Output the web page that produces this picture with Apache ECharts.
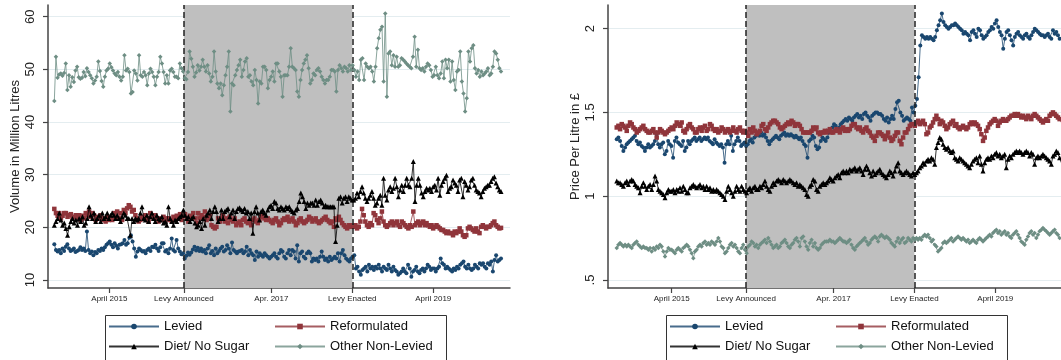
<!DOCTYPE html>
<html><head><meta charset="utf-8">
<script src="https://cdn.jsdelivr.net/npm/echarts@6/dist/echarts.min.js"></script>
<style>html,body{margin:0;padding:0;background:#fff}#c{width:1061px;height:360px}</style>
</head><body><div id="c"></div>
<script>
const seriesNames = ['Levied','Reformulated','Diet/ No Sugar','Other Non-Levied'];
const xTickValues = [2015.25, 2016.17, 2017.25, 2018.25, 2019.25];
const xTickLabels = ['April 2015','Levy Announced','Apr. 2017','Levy Enacted','April 2019'];
const levyAnnounced = 2016.17, levyEnacted = 2018.25;
const firstWeek = 2014.571, lastWeek = 2020.086;
const volTicks = [10,20,30,40,50,60];
const priceTicks = [0.5,1,1.5,2];

const volLevied = [16.8,15.7,15.4,15.7,15.1,16.0,15.5,16.3,16.8,16.0,15.5,15.7,16.0,15.3,15.5,15.7,16.2,15.7,16.0,15.5,19.2,15.7,15.1,15.4,14.7,15.3,15.1,15.7,15.5,16.0,15.7,16.2,16.7,17.0,17.3,16.7,16.2,17.0,16.5,16.0,16.7,16.8,17.0,17.6,16.7,17.0,18.0,18.5,17.3,16.0,14.4,15.4,16.0,15.7,15.4,15.5,15.1,15.7,16.0,15.5,16.3,16.2,16.7,16.0,15.5,16.2,17.0,17.0,15.4,15.7,15.1,16.0,17.9,15.7,15.4,17.6,16.0,15.4,14.9,15.1,14.1,14.6,15.2,14.8,
15.2,15.8,16.3,15.6,16.1,15.5,16.0,
15.4,15.7,15.1,16.0,16.6,15.1,15.5,14.7,16.0,15.1,15.5,16.0,16.3,15.4,15.7,16.6,16.0,15.1,17.1,15.7,15.4,15.1,15.4,15.5,15.7,15.1,15.4,16.3,14.7,15.7,15.1,14.7,13.8,15.4,14.4,15.1,14.7,14.4,15.1,14.7,14.4,14.1,14.4,14.7,15.1,14.4,14.1,15.1,15.7,15.4,14.4,14.1,15.1,15.7,14.7,15.7,15.4,14.1,16.6,13.5,15.1,15.4,14.4,14.1,15.1,15.4,15.1,13.5,14.1,13.8,14.1,13.5,14.4,15.4,14.4,13.8,14.1,13.5,14.4,13.8,14.1,14.4,14.1,15.1,13.5,15.1,15.7,14.7,14.1,13.8,13.5,14.1,14.4,14.7,
12.2,12.5,11.6,11.0,11.9,12.2,12.5,11.6,12.9,12.2,12.5,11.9,12.5,12.2,12.9,12.2,11.6,12.5,12.2,11.9,12.9,12.2,11.6,12.5,11.9,11.6,11.0,11.3,11.6,12.2,11.6,11.3,12.9,12.2,10.6,11.6,11.9,12.5,11.6,11.3,11.9,12.2,11.6,12.2,12.9,12.5,11.9,12.2,12.2,11.6,12.2,12.5,14.1,13.2,12.9,12.2,12.5,12.2,11.9,11.6,12.2,11.9,12.5,12.2,12.9,13.2,13.5,12.5,12.2,12.9,12.2,11.9,12.2,12.9,12.5,12.2,13.2,12.9,13.2,12.5,12.2,13.2,12.9,13.5,11.6,13.8,14.7,13.5,13.8,14.1];

const volReform = [23.5,22.7,22.2,22.7,21.7,22.2,22.7,22.7,22.0,22.3,22.5,21.7,22.0,22.3,21.7,22.3,21.4,22.2,21.7,22.7,22.3,23.0,22.0,22.7,22.3,21.4,22.0,21.7,22.3,21.4,21.7,21.1,22.0,21.4,21.7,21.4,22.7,22.0,23.0,21.7,22.7,21.4,23.3,22.7,23.6,24.2,23.9,23.0,23.3,22.3,21.7,21.1,21.4,22.0,21.7,22.3,21.7,21.1,22.7,22.2,21.7,22.3,21.7,21.1,21.7,21.4,22.0,21.1,21.7,21.7,21.4,21.2,22.0,21.7,22.2,21.7,22.5,21.4,22.2,22.5,21.7,21.1,22.2,21.7,22.7,21.7,20.8,
22.7,21.7,22.3,22.0,23.0,21.4,21.7,22.3,20.4,20.1,19.8,20.1,21.7,21.1,21.7,22.3,21.1,21.7,20.8,22.0,21.4,21.1,21.7,20.4,20.8,21.1,20.4,21.4,21.7,21.1,20.8,21.1,20.4,21.4,21.7,21.1,20.8,21.4,22.0,22.3,21.7,21.4,21.7,21.4,21.1,20.8,21.4,21.7,21.1,20.4,20.8,21.4,21.7,21.4,22.0,21.1,21.4,21.7,21.1,20.4,20.8,21.4,21.7,21.1,20.8,21.1,21.4,22.0,21.7,21.1,21.4,21.7,21.1,20.8,21.1,21.4,21.7,22.0,21.4,21.1,20.8,21.1,20.1,21.7,21.4,22.0,21.4,20.8,20.4,20.1,19.8,20.4,20.1,
20.4,20.1,20.4,19.8,20.1,21.1,23.5,22.3,21.1,20.4,20.1,20.8,20.4,22.7,22.3,21.4,20.8,21.7,23.0,21.1,20.4,20.1,20.4,20.8,21.1,20.4,20.8,21.1,20.4,20.1,21.1,20.8,20.4,20.1,19.8,20.4,20.1,23.0,20.4,20.8,21.1,20.4,20.8,21.1,20.4,20.8,20.4,20.1,20.4,19.8,20.1,20.4,20.1,19.8,19.5,19.5,19.2,18.9,19.2,18.9,18.9,18.5,19.2,18.9,19.2,19.8,19.2,18.5,18.2,18.5,19.8,20.1,19.8,19.5,19.2,19.8,19.2,18.9,20.1,20.4,20.1,19.8,20.1,20.1,20.4,20.8,21.1,20.4,20.1,19.8,19.9];

const volDiet = [20.4,21.1,21.7,22.7,21.4,20.4,20.8,19.8,18.5,20.1,21.1,21.7,20.8,21.4,20.4,21.7,21.1,22.0,20.4,20.8,21.7,23.9,22.3,21.7,22.7,21.1,21.7,22.3,21.1,22.7,21.7,22.0,22.7,21.7,22.3,22.7,22.3,21.7,22.3,21.7,21.1,22.0,22.7,22.3,21.7,21.7,18.5,21.7,21.1,21.7,21.4,21.7,22.7,23.9,21.7,21.4,22.3,21.1,22.0,22.7,21.7,21.1,22.3,21.7,21.4,22.0,20.8,21.1,20.4,23.9,21.7,21.1,20.4,21.4,21.1,21.7,22.0,22.3,23.3,22.3,21.7,22.0,21.1,21.7,22.0,20.8,20.1,20.4,
21.1,19.8,21.7,20.4,22.3,22.7,23.3,21.7,23.0,23.9,23.0,21.1,21.7,23.3,21.7,23.0,23.3,23.6,22.0,22.7,23.3,21.7,23.0,23.6,23.7,23.3,23.0,23.6,22.7,23.0,21.7,22.7,18.9,23.0,23.9,22.7,21.4,23.0,23.3,22.7,22.3,23.3,23.9,24.2,23.6,24.9,24.6,23.6,23.3,23.9,23.6,23.3,23.9,23.6,23.9,23.3,23.0,22.7,23.3,23.6,24.9,26.5,25.8,24.9,23.6,24.6,24.2,24.6,24.6,24.2,25.2,24.2,24.9,25.2,24.6,23.9,24.2,23.9,23.9,23.9,23.9,23.9,17.3,20.4,25.5,25.8,24.6,25.5,25.8,24.9,25.8,25.5,25.2,
25.2,25.5,26.5,25.8,26.8,27.7,26.5,25.5,24.9,25.5,26.1,26.8,25.5,24.2,24.6,25.5,26.1,24.2,29.3,26.1,25.2,27.1,27.7,26.8,27.4,29.3,27.7,25.8,27.1,28.0,26.8,28.0,29.3,28.0,27.7,29.3,32.5,24.9,28.0,29.3,28.0,26.5,25.8,26.8,27.4,27.1,27.4,26.8,27.7,28.0,27.1,29.3,26.1,28.0,28.7,29.3,29.9,26.8,27.4,27.7,29.0,28.4,28.0,26.8,29.0,29.3,25.8,28.7,28.0,27.1,27.7,29.0,29.3,28.0,27.1,26.8,26.5,25.8,26.8,27.4,27.7,28.0,28.0,28.7,29.3,29.6,28.4,27.7,27.1,26.8];

const volOther = [44.0,52.4,48.4,49.0,49.2,48.8,49.3,51.1,46.1,48.9,46.7,48.5,47.6,49.8,50.5,48.5,48.2,48.4,49.5,48.7,50.2,49.5,48.9,48.3,47.3,47.9,48.6,51.5,49.7,47.8,46.7,48.6,49.8,50.1,51.1,50.4,49.8,49.2,48.9,49.5,48.6,47.9,48.6,52.7,49.8,50.1,49.5,45.4,45.7,49.8,49.2,47.9,52.7,48.9,48.6,49.5,48.9,47.0,49.2,50.1,49.5,48.6,47.0,48.6,49.5,52.4,51.1,49.5,47.3,48.9,47.3,49.8,50.1,49.5,48.6,48.6,48.3,51.1,50.2,49.6,48.3,48.1,49.5,53.4,
52.0,50.5,48.6,49.4,50.8,49.8,50.5,
51.8,50.5,49.6,50.8,49.2,47.7,48.6,53.4,49.6,47.3,46.4,47.3,45.1,47.0,48.9,50.5,53.4,42.0,47.3,47.0,48.9,49.9,50.8,51.8,48.6,49.9,51.5,52.1,48.6,48.9,47.7,47.0,49.9,48.0,43.5,47.7,47.3,50.5,50.5,49.9,46.4,48.0,48.6,49.6,47.7,51.1,51.1,49.6,48.6,44.8,48.9,48.9,48.9,50.5,54.0,50.5,50.2,49.9,45.8,44.8,48.0,49.9,51.1,51.8,52.7,50.2,47.3,48.0,49.2,48.9,49.9,50.2,49.6,48.6,48.0,47.3,48.0,48.0,48.6,49.9,49.9,49.6,45.8,49.9,50.8,50.2,49.6,50.5,50.2,49.6,50.8,49.9,50.8,
49.9,48.6,49.6,48.0,51.8,52.1,48.0,51.1,50.5,50.2,50.5,49.6,47.7,50.5,54.0,55.9,57.5,58.1,47.7,60.6,44.8,53.0,53.4,50.8,52.7,50.5,52.4,50.5,50.8,52.1,51.8,51.5,51.1,50.8,50.5,50.2,52.4,56.2,50.5,53.7,50.2,49.9,50.2,49.6,50.5,51.1,50.8,49.9,48.6,48.9,50.5,48.9,48.3,49.2,51.5,48.3,51.8,50.2,51.8,47.7,51.5,48.0,46.1,49.6,49.9,53.4,47.7,45.4,42.0,44.5,53.4,51.5,54.0,54.6,50.2,49.2,49.9,48.6,49.6,48.9,49.2,49.6,50.2,48.9,49.2,50.5,53.4,53.0,51.8,50.2,49.6];

const priceLevied = [1.34,1.35,1.33,1.30,1.27,1.29,1.31,1.32,1.33,1.34,1.35,1.36,1.33,1.31,1.32,1.30,1.29,1.27,1.29,1.31,1.29,1.30,1.31,1.33,1.37,1.31,1.29,1.31,1.32,1.25,1.27,1.33,1.31,1.30,1.23,1.33,1.35,1.32,1.31,1.30,1.33,1.27,1.29,1.33,1.31,1.33,1.34,1.35,1.33,1.34,1.35,1.33,1.34,1.35,1.34,1.35,1.33,1.32,1.31,1.34,1.32,1.31,1.30,1.31,1.29,1.20,1.31,1.33,1.31,1.36,1.27,1.31,1.33,1.35,1.33,1.30,1.31,1.32,1.30,
1.31,1.33,1.34,1.32,1.35,1.36,
1.38,1.36,1.38,1.36,1.37,1.35,1.33,1.31,1.33,1.34,1.35,1.36,1.35,1.34,1.36,1.37,1.38,1.36,1.37,1.36,1.37,1.36,1.35,1.36,1.35,1.34,1.35,1.33,1.31,1.30,1.23,1.33,1.34,1.36,1.35,1.30,1.28,1.29,1.33,1.35,1.34,1.33,1.35,1.38,1.39,1.41,1.43,1.42,1.40,1.41,1.43,1.44,1.45,1.46,1.45,1.47,1.46,1.45,1.47,1.48,1.49,1.47,1.48,1.46,1.49,1.50,1.48,1.47,1.45,1.48,1.49,1.50,1.50,1.49,1.49,1.48,1.46,1.45,1.47,1.44,1.46,1.48,1.46,1.52,1.56,1.57,1.50,1.48,1.45,1.46,1.47,1.46,1.45,1.53,
1.50,1.54,1.58,1.71,1.90,1.96,1.95,1.94,1.95,1.94,1.95,1.94,1.93,1.95,1.99,2.02,2.05,2.09,2.04,2.02,2.01,2.00,2.01,2.02,2.02,2.03,2.02,2.01,2.00,1.99,1.97,1.98,1.97,1.96,1.93,1.98,1.99,1.97,1.95,2.00,1.99,1.96,1.94,1.95,1.96,1.98,1.99,2.01,2.00,2.03,2.05,2.01,1.98,1.96,1.88,1.94,1.98,1.99,1.96,1.93,1.90,1.95,1.97,1.98,1.96,1.95,1.94,1.96,1.97,1.95,1.94,1.96,1.98,2.00,1.99,1.98,1.97,1.96,1.96,1.95,1.96,1.97,1.95,1.94,1.99,1.97,1.98,1.96,1.94,1.94,1.93];

const priceReform = [1.41,1.42,1.40,1.43,1.42,1.41,1.39,1.42,1.44,1.43,1.41,1.40,1.38,1.39,1.40,1.41,1.42,1.40,1.39,1.38,1.38,1.39,1.40,1.38,1.35,1.38,1.40,1.39,1.38,1.37,1.38,1.39,1.40,1.41,1.40,1.42,1.44,1.43,1.42,1.44,1.39,1.38,1.40,1.42,1.43,1.41,1.40,1.38,1.38,1.40,1.41,1.39,1.41,1.42,1.39,1.40,1.43,1.42,1.40,1.39,1.40,1.38,1.39,1.41,1.40,1.38,1.39,1.40,1.38,1.39,1.41,1.39,1.38,1.40,1.41,1.39,1.38,1.39,1.38,
1.36,1.40,1.38,1.41,1.39,1.37,
1.38,1.39,1.42,1.43,1.40,1.39,1.41,1.43,1.44,1.45,1.45,1.44,1.43,1.41,1.40,1.41,1.42,1.43,1.44,1.43,1.45,1.44,1.42,1.43,1.43,1.42,1.40,1.38,1.38,1.38,1.38,1.38,1.39,1.41,1.40,1.41,1.38,1.37,1.38,1.38,1.39,1.38,1.39,1.40,1.38,1.38,1.39,1.40,1.39,1.38,1.40,1.41,1.39,1.40,1.39,1.40,1.42,1.43,1.43,1.41,1.40,1.41,1.39,1.38,1.40,1.41,1.39,1.38,1.36,1.35,1.33,1.36,1.38,1.38,1.37,1.36,1.34,1.36,1.38,1.35,1.33,1.34,1.36,1.38,1.38,1.33,1.31,1.35,1.38,1.38,1.40,1.42,1.43,
1.43,1.42,1.44,1.45,1.43,1.44,1.45,1.43,1.37,1.38,1.41,1.42,1.44,1.46,1.48,1.46,1.43,1.45,1.44,1.42,1.40,1.41,1.43,1.44,1.45,1.42,1.43,1.41,1.40,1.41,1.42,1.41,1.40,1.41,1.43,1.44,1.43,1.44,1.43,1.42,1.40,1.37,1.33,1.35,1.39,1.41,1.43,1.44,1.45,1.46,1.45,1.42,1.44,1.45,1.46,1.45,1.45,1.46,1.47,1.48,1.48,1.49,1.48,1.49,1.48,1.47,1.48,1.47,1.46,1.48,1.47,1.46,1.48,1.49,1.48,1.47,1.46,1.45,1.44,1.45,1.46,1.45,1.48,1.49,1.50,1.49,1.48,1.47,1.46,1.44,1.43];

const priceDiet = [1.09,1.08,1.08,1.07,1.06,1.08,1.09,1.07,1.09,1.10,1.09,1.07,1.06,1.05,1.02,1.06,1.08,1.06,1.04,1.06,1.07,1.04,1.07,1.12,1.09,1.04,1.03,1.02,1.01,0.99,1.02,1.04,1.03,1.03,1.04,1.02,1.04,1.03,1.05,1.03,1.06,1.04,1.02,1.02,1.05,1.06,1.07,1.06,1.05,1.06,1.07,1.05,1.06,1.04,1.06,1.04,1.05,1.03,1.04,1.03,1.04,1.03,1.02,1.01,1.00,0.98,1.03,1.06,1.04,1.02,1.00,1.03,1.06,1.04,1.03,1.06,1.04,1.03,1.02,
1.04,1.05,1.03,1.05,1.06,1.04,
1.04,1.06,1.05,1.07,1.09,1.06,1.04,1.03,1.06,1.08,1.07,1.09,1.10,1.09,1.08,1.10,1.09,1.08,1.09,1.10,1.09,1.08,1.07,1.08,1.06,1.07,1.06,1.05,1.04,1.01,1.00,1.06,1.07,1.10,1.09,1.04,1.03,1.06,1.07,1.08,1.07,1.08,1.09,1.11,1.10,1.09,1.11,1.12,1.13,1.11,1.14,1.15,1.14,1.15,1.14,1.16,1.15,1.16,1.17,1.15,1.16,1.17,1.15,1.13,1.16,1.18,1.16,1.14,1.12,1.15,1.13,1.14,1.15,1.16,1.14,1.13,1.12,1.11,1.13,1.15,1.14,1.12,1.15,1.18,1.20,1.15,1.14,1.13,1.14,1.15,1.14,1.13,1.12,
1.14,1.13,1.14,1.15,1.17,1.18,1.20,1.19,1.21,1.22,1.21,1.23,1.22,1.19,1.29,1.32,1.35,1.34,1.31,1.29,1.28,1.29,1.27,1.26,1.27,1.23,1.22,1.21,1.23,1.22,1.21,1.20,1.19,1.18,1.17,1.19,1.21,1.22,1.23,1.20,1.24,1.19,1.15,1.20,1.22,1.23,1.22,1.24,1.23,1.25,1.26,1.24,1.25,1.23,1.24,1.25,1.17,1.22,1.24,1.23,1.25,1.26,1.27,1.26,1.27,1.26,1.25,1.26,1.27,1.26,1.24,1.26,1.25,1.19,1.23,1.24,1.23,1.24,1.25,1.24,1.23,1.22,1.21,1.19,1.24,1.25,1.27,1.26,1.23,1.20,1.21];

const priceOther = [0.69,0.71,0.72,0.71,0.70,0.71,0.70,0.71,0.70,0.69,0.71,0.72,0.73,0.71,0.70,0.69,0.70,0.69,0.69,0.68,0.69,0.67,0.69,0.68,0.70,0.69,0.71,0.70,0.67,0.64,0.67,0.69,0.68,0.68,0.67,0.66,0.68,0.69,0.68,0.67,0.69,0.70,0.71,0.70,0.68,0.66,0.63,0.67,0.68,0.70,0.71,0.70,0.72,0.73,0.71,0.72,0.71,0.73,0.72,0.71,0.73,0.75,0.73,0.70,0.69,0.66,0.67,0.69,0.71,0.72,0.70,0.71,0.69,0.67,0.66,0.69,0.71,0.68,0.66,
0.70,0.71,0.73,0.72,0.70,0.71,
0.69,0.71,0.72,0.73,0.74,0.72,0.75,0.73,0.71,0.69,0.70,0.71,0.69,0.70,0.72,0.73,0.74,0.72,0.70,0.69,0.71,0.72,0.74,0.75,0.73,0.70,0.75,0.76,0.73,0.70,0.68,0.72,0.74,0.70,0.72,0.69,0.68,0.69,0.71,0.72,0.73,0.73,0.73,0.74,0.73,0.73,0.72,0.73,0.74,0.75,0.74,0.73,0.73,0.72,0.73,0.74,0.71,0.69,0.68,0.70,0.71,0.72,0.73,0.74,0.75,0.73,0.71,0.72,0.74,0.75,0.76,0.75,0.73,0.76,0.77,0.76,0.75,0.76,0.75,0.74,0.72,0.71,0.70,0.73,0.75,0.72,0.74,0.75,0.72,0.73,0.75,0.74,0.73,
0.75,0.74,0.75,0.74,0.75,0.74,0.76,0.77,0.76,0.77,0.75,0.73,0.74,0.71,0.70,0.67,0.68,0.69,0.72,0.73,0.72,0.73,0.74,0.75,0.73,0.74,0.75,0.76,0.75,0.74,0.75,0.74,0.73,0.74,0.72,0.73,0.74,0.73,0.72,0.74,0.75,0.74,0.73,0.74,0.75,0.76,0.77,0.76,0.78,0.79,0.80,0.78,0.79,0.77,0.78,0.79,0.77,0.78,0.76,0.75,0.77,0.78,0.79,0.77,0.75,0.73,0.72,0.71,0.74,0.76,0.78,0.79,0.77,0.78,0.75,0.77,0.79,0.80,0.81,0.80,0.79,0.78,0.77,0.78,0.79,0.80,0.78,0.77,0.75,0.74,0.74];

const FONT = 'Liberation Sans, Arial, Helvetica, sans-serif';
const colors = ['#1a476f','#90353b','#000000','#6e8e84'];
const symbols = ['circle','rect','triangle','diamond'];
const sizes = [4,4.5,5,4.5];

function pairs(arr){
  const n = arr.length, step = (lastWeek-firstWeek)/(n-1);
  return arr.map((v,i)=>[firstWeek + i*step, v]);
}
function mkSeries(idx, data, gi){
  return {name: seriesNames[idx], type:'line', xAxisIndex:gi, yAxisIndex:gi, data: pairs(data),
    symbol: symbols[idx], symbolSize: sizes[idx], showSymbol:true, showAllSymbol:true,
    lineStyle:{color: colors[idx], width:1, opacity:0.8}, itemStyle:{color: colors[idx]},
    z: 3+idx, emphasis:{disabled:true}, silent:true};
}
function shade(gi){
  return {name:'_shade', type:'line', xAxisIndex:gi, yAxisIndex:gi, data:[], silent:true, z:1,
    markArea:{silent:true, itemStyle:{color:'#bfbfbf'}, data:[[{xAxis: levyAnnounced},{xAxis: levyEnacted}]]},
    markLine:{silent:true, symbol:'none', label:{show:false}, lineStyle:{color:'#222', width:1.5, type:[6,3]},
      data:[{xAxis: levyAnnounced},{xAxis: levyEnacted}]}};
}
function xLabel(v){
  let best = 0, d = 1e9;
  xTickValues.forEach((t,i)=>{ if (Math.abs(t-v) < d){ d = Math.abs(t-v); best = i; } });
  return xTickLabels[best];
}
function mkX(gi, min, max){
  return {type:'value', gridIndex:gi, min, max,
    axisLine:{show:true, onZero:false, lineStyle:{color:'#444', width:1.5}},
    axisTick:{show:true, customValues:xTickValues, length:5, lineStyle:{color:'#444', width:1.2}},
    axisLabel:{customValues:xTickValues, formatter:xLabel, fontSize:8, color:'#222', margin:7, fontFamily:FONT},
    splitLine:{show:false}};
}
function mkY(gi, min, max, ticks, name, fmt){
  return {type:'value', gridIndex:gi, min, max, name, nameLocation:'middle', nameGap:26,
    nameTextStyle:{fontSize:13, color:'#222', fontFamily:FONT},
    axisLine:{show:true, onZero:false, lineStyle:{color:'#444', width:1.5}},
    axisTick:{show:true, customValues:ticks, length:5, lineStyle:{color:'#444', width:1.2}},
    axisLabel:{customValues:ticks, rotate:90, fontSize:13, color:'#222', margin:11, fontFamily:FONT, formatter:fmt},
    splitLine:{show:true, lineStyle:{color:'#e4edf0', width:1}}};
}
function mkLegend(left, names){
  return {data: names, left, top:320, orient:'vertical',
    itemWidth:50, itemHeight:7, itemGap:7, itemTextGap:8, padding:0,
    selectedMode:false, textStyle:{fontSize:13, color:'#111', fontFamily:FONT}};
}
function legendBox(left){
  return {type:'rect', left, top:313, silent:true, z:100,
    shape:{width:341, height:45}, style:{fill:'none', stroke:'#333', lineWidth:1}};
}

const chart = echarts.init(document.getElementById('c'), null, {renderer:'canvas'});
chart.setOption({
  animation:false,
  backgroundColor:'#ffffff',
  textStyle:{fontFamily:FONT},
  grid:[
    {left:48, top:5, width:462, height:283},
    {left:608, top:5, right:0, height:283}
  ],
  xAxis:[mkX(0, 2014.493, 2020.197), mkX(1, 2014.463, 2020.062)],
  yAxis:[
    mkY(0, 8.48, 62.22, volTicks, 'Volume in Million Litres', v=>String(v)),
    mkY(1, 0.452, 2.141, priceTicks, 'Price Per Litre in £', v=> v===0.5 ? '.5' : String(v))
  ],
  legend:[
    mkLegend(108, [seriesNames[0], seriesNames[2]]), mkLegend(274, [seriesNames[1], seriesNames[3]]),
    mkLegend(669, [seriesNames[0], seriesNames[2]]), mkLegend(835, [seriesNames[1], seriesNames[3]])
  ],
  graphic:[legendBox(103), legendBox(664)],
  series:[
    shade(0), shade(1),
    mkSeries(0, volLevied, 0), mkSeries(1, volReform, 0), mkSeries(2, volDiet, 0), mkSeries(3, volOther, 0),
    mkSeries(0, priceLevied, 1), mkSeries(1, priceReform, 1), mkSeries(2, priceDiet, 1), mkSeries(3, priceOther, 1)
  ]
});
</script></body></html>
